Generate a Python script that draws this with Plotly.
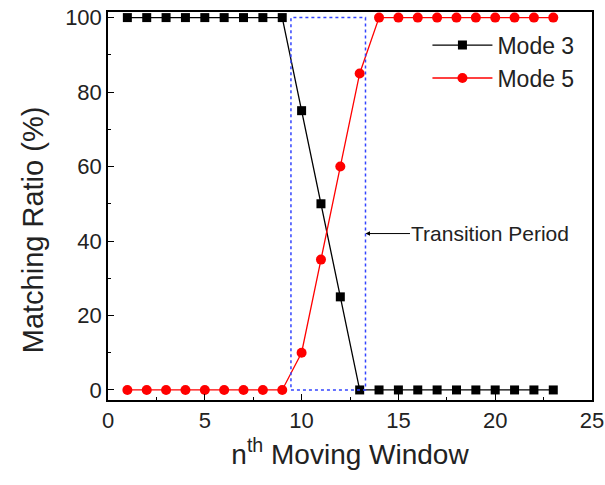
import plotly.graph_objects as go

windows = list(range(1, 24))
mode3 = [100]*9 + [75, 50, 25, 0] + [0]*10
mode5 = [0]*9 + [10, 35, 60, 85] + [100]*10
transition_x = [9.45, 13.3]
transition_y = [0, 100]
x_ticks = [0, 5, 10, 15, 20, 25]
y_ticks = [0, 20, 40, 60, 80, 100]

fig = go.Figure()
fig.add_shape(type="rect", x0=transition_x[0], x1=transition_x[1], y0=transition_y[0], y1=transition_y[1],
              line=dict(color="#3344ff", width=1.5, dash="dot"))
fig.add_trace(go.Scatter(x=windows, y=mode3, mode="lines+markers", name="Mode 3",
                         line=dict(color="black", width=1.3),
                         marker=dict(symbol="square", size=9, color="black")))
fig.add_trace(go.Scatter(x=windows, y=mode5, mode="lines+markers", name="Mode 5",
                         line=dict(color="red", width=1.3),
                         marker=dict(symbol="circle", size=10, color="red")))
fig.add_annotation(x=transition_x[1], y=42, text="Transition Period", showarrow=True,
                   ax=125, ay=0, arrowhead=2, arrowsize=0.9, arrowwidth=1, arrowcolor="black",
                   standoff=0, font=dict(size=21, color="#222"))
fig.add_annotation(xref="paper", yref="paper", x=-0.155, y=0.44, text="Matching Ratio (%)",
                   xanchor="center", yanchor="middle",
                   textangle=-90, showarrow=False, font=dict(size=29, color="#222"))
font = dict(family="Liberation Sans, Arial", color="#222")
fig.update_layout(
    width=605, height=485, margin=dict(l=108, r=13, t=12, b=85),
    plot_bgcolor="white", paper_bgcolor="white", font=font,
    showlegend=True,
    legend=dict(x=0.66, y=0.97, xanchor="left", yanchor="top", bgcolor="rgba(0,0,0,0)",
                font=dict(size=23, color="#222"), itemwidth=60, tracegroupgap=0),
    xaxis=dict(range=[0, 25], tickvals=x_ticks, ticks="inside", ticklen=6, tickcolor="black",
               minor=dict(ticks="inside", ticklen=3, dtick=2.5, tickcolor="black"),
               showline=True, linecolor="black", linewidth=1.5, mirror=True, showgrid=False,
               zeroline=False, tickfont=dict(size=22), automargin=False,
               title=dict(text="n<sup>th</sup> Moving Window", font=dict(size=28), standoff=12)),
    yaxis=dict(range=[-2.7, 101.5], tickvals=y_ticks, ticks="inside", ticklen=6, tickcolor="black",
               minor=dict(ticks="inside", ticklen=3, dtick=10, tickcolor="black"),
               showline=True, linecolor="black", linewidth=1.5, mirror=True, showgrid=False,
               zeroline=False, tickfont=dict(size=22), automargin=False),
)
fig.write_html("out.html", config={"displayModeBar": False},
               post_script="document.body.style.margin='0';document.body.style.overflow='hidden';")
